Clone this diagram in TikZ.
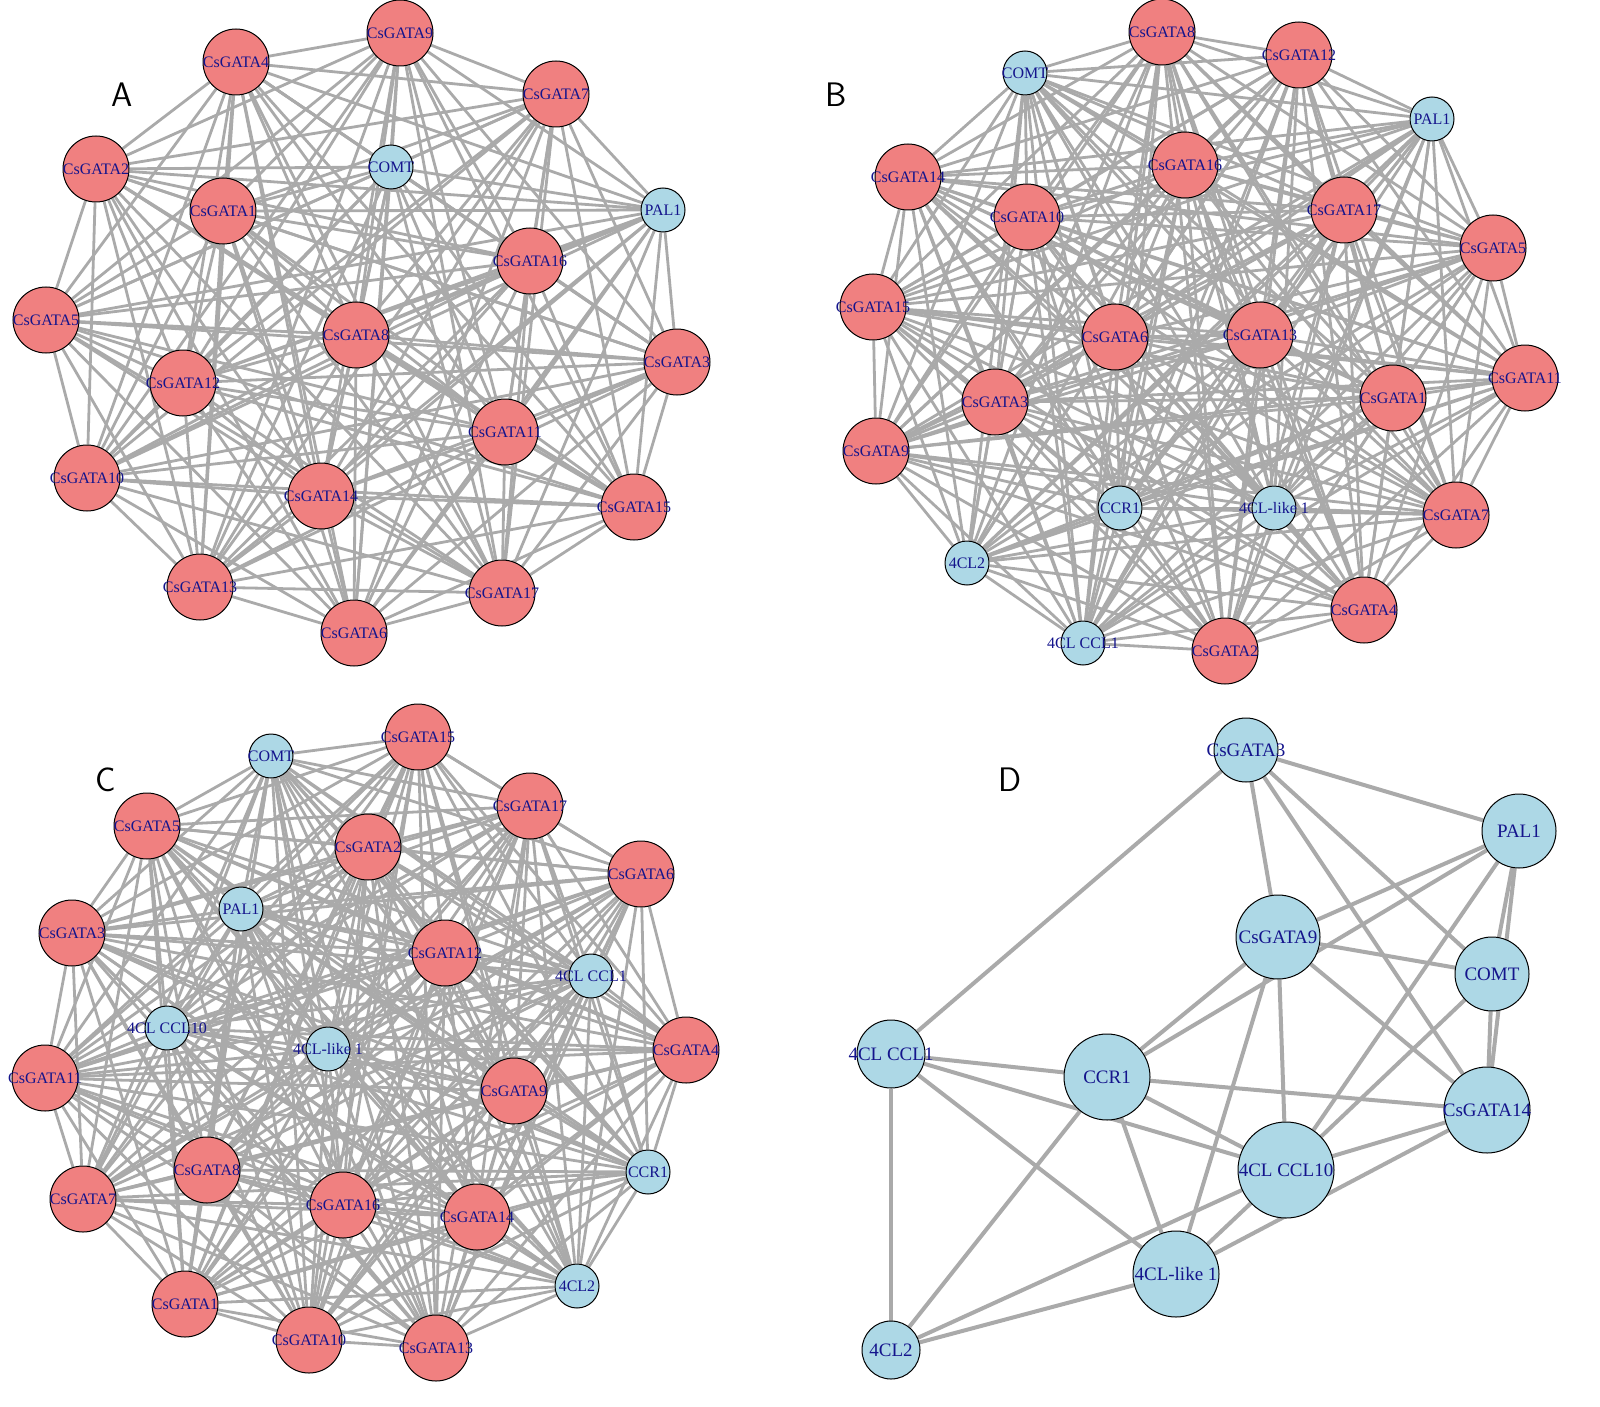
\documentclass[tikz,border=0pt]{standalone}
\usepackage{fontspec}
\setmainfont{Liberation Serif}
\usetikzlibrary{backgrounds}
\definecolor{lc}{RGB}{240,128,128}
\definecolor{lb}{RGB}{173,216,230}
\definecolor{eg}{RGB}{170,170,170}
\definecolor{tx}{RGB}{20,20,140}
\begin{document}
\begin{tikzpicture}[x=0.5pt,y=-0.5pt,
  lab/.style={text=tx,font=\fontsize{8}{8}\selectfont,inner sep=0},
  rn/.style={circle,draw=black,line width=0.5pt,fill=lc,minimum size=33pt,inner sep=0,label={[lab]center:#1}},
  bn/.style={circle,draw=black,line width=0.5pt,fill=lb,minimum size=22pt,inner sep=0,label={[lab]center:#1}},
  dn/.style 2 args={circle,draw=black,line width=0.5pt,fill=lb,minimum size=#2,inner sep=0,label={[lab,font=\fontsize{9.5}{9.5}\selectfont]center:#1}},
  ed/.style={draw=eg,line width=1.4pt},
  de/.style={draw=eg,line width=2pt},
  pl/.style={font=\sffamily\fontsize{17}{17}\selectfont}]
\useasboundingbox (0,0) rectangle (1600,1407);
% ---------- A ----------
\node[pl] (LA) at (122,95) {A};
\node[rn=CsGATA9] (a1) at (400,33) {};
\node[rn=CsGATA4] (a2) at (236,62) {};
\node[rn=CsGATA7] (a3) at (556,94) {};
\node[rn=CsGATA2] (a4) at (96,169) {};
\node[bn=COMT] (a5) at (391,167) {};
\node[rn=CsGATA1] (a6) at (223,211) {};
\node[bn=PAL1] (a7) at (663,210) {};
\node[rn=CsGATA16] (a8) at (530,261) {};
\node[rn=CsGATA5] (a9) at (46,320) {};
\node[rn=CsGATA8] (a10) at (356,335) {};
\node[rn=CsGATA3] (a11) at (677,362) {};
\node[rn=CsGATA12] (a12) at (183,383) {};
\node[rn=CsGATA11] (a13) at (505,432) {};
\node[rn=CsGATA10] (a14) at (87,478) {};
\node[rn=CsGATA14] (a15) at (321,496) {};
\node[rn=CsGATA15] (a16) at (634,507) {};
\node[rn=CsGATA13] (a17) at (200,587) {};
\node[rn=CsGATA17] (a18) at (502,593) {};
\node[rn=CsGATA6] (a19) at (354,633) {};
% ---------- B ----------
\node[pl] (LB) at (836,95) {B};
\node[rn=CsGATA8] (b1) at (1162,32) {};
\node[rn=CsGATA12] (b2) at (1299,55) {};
\node[bn=COMT] (b3) at (1025,73) {};
\node[bn=PAL1] (b4) at (1432,119) {};
\node[rn=CsGATA14] (b5) at (908,177) {};
\node[rn=CsGATA16] (b6) at (1185,165) {};
\node[rn=CsGATA10] (b7) at (1027,217) {};
\node[rn=CsGATA17] (b8) at (1344,210) {};
\node[rn=CsGATA5] (b9) at (1493,248) {};
\node[rn=CsGATA15] (b10) at (873,307) {};
\node[rn=CsGATA6] (b11) at (1115,337) {};
\node[rn=CsGATA13] (b12) at (1260,335) {};
\node[rn=CsGATA11] (b13) at (1525,378) {};
\node[rn=CsGATA3] (b14) at (995,402) {};
\node[rn=CsGATA1] (b15) at (1393,398) {};
\node[rn=CsGATA9] (b16) at (876,451) {};
\node[bn=CCR1] (b17) at (1120,508) {};
\node[bn=4CL-like 1] (b18) at (1274,508) {};
\node[rn=CsGATA7] (b19) at (1456,515) {};
\node[bn=4CL2] (b20) at (967,563) {};
\node[rn=CsGATA4] (b21) at (1364,610) {};
\node[bn=4CL CCL1] (b22) at (1083,643) {};
\node[rn=CsGATA2] (b23) at (1225,651) {};
% ---------- C ----------
\node[pl] (LC) at (106,780) {C};
\node[rn=CsGATA15] (c1) at (418,737) {};
\node[bn=COMT] (c2) at (271,756) {};
\node[rn=CsGATA17] (c3) at (530,806) {};
\node[rn=CsGATA5] (c4) at (147,826) {};
\node[rn=CsGATA2] (c5) at (368,847) {};
\node[rn=CsGATA6] (c6) at (641,874) {};
\node[bn=PAL1] (c7) at (241,909) {};
\node[rn=CsGATA3] (c8) at (72,933) {};
\node[rn=CsGATA12] (c9) at (445,953) {};
\node[bn=4CL CCL1] (c10) at (591,976) {};
\node[bn=4CL CCL10] (c11) at (167,1028) {};
\node[bn=4CL-like 1] (c12) at (328,1049) {};
\node[rn=CsGATA4] (c13) at (686,1050) {};
\node[rn=CsGATA11] (c14) at (45,1078) {};
\node[rn=CsGATA9] (c15) at (514,1091) {};
\node[bn=CCR1] (c16) at (648,1172) {};
\node[rn=CsGATA8] (c17) at (207,1170) {};
\node[rn=CsGATA7] (c18) at (83,1199) {};
\node[rn=CsGATA16] (c19) at (343,1205) {};
\node[rn=CsGATA14] (c20) at (477,1217) {};
\node[bn=4CL2] (c21) at (577,1286) {};
\node[rn=CsGATA1] (c22) at (185,1304) {};
\node[rn=CsGATA10] (c23) at (309,1340) {};
\node[rn=CsGATA13] (c24) at (436,1348) {};
% ---------- D ----------
\node[pl] (LD) at (1010,780) {D};
\node[dn={CsGATA3}{32pt}] (g3) at (1246,750) {};
\node[dn={PAL1}{37pt}] (pal) at (1519,831) {};
\node[dn={CsGATA9}{42pt}] (g9) at (1278,937) {};
\node[dn={COMT}{37pt}] (comt) at (1492,974) {};
\node[dn={4CL CCL1}{34pt}] (ccl1) at (891,1054) {};
\node[dn={CCR1}{43pt}] (ccr) at (1107,1077) {};
\node[dn={CsGATA14}{43pt}] (g14) at (1487,1110) {};
\node[dn={4CL CCL10}{48pt}] (ccl10) at (1286,1170) {};
\node[dn={4CL-like 1}{43pt}] (like) at (1176,1274) {};
\node[dn={4CL2}{29pt}] (cl2) at (891,1350) {};
\begin{scope}[on background layer]
\foreach \p/\n in {a/19,b/23,c/24}{
  \pgfmathtruncatemacro\m{\n-1}
  \foreach \i in {1,...,\m}{
    \pgfmathtruncatemacro\k{\i+1}
    \foreach \j in {\k,...,\n}{\draw[ed] (\p\i) -- (\p\j);}
  }
}
\foreach \u/\v in {g3/ccl1,g3/pal,g3/g9,g3/comt,g3/g14,pal/g9,pal/ccr,pal/comt,pal/g14,pal/ccl10,
  g9/comt,g9/g14,g9/ccl10,g9/like,g9/ccr,comt/g14,comt/ccl10,ccl1/ccr,ccl1/ccl10,ccl1/like,ccl1/cl2,
  ccr/g14,ccr/ccl10,ccr/like,ccr/cl2,g14/ccl10,g14/like,ccl10/like,ccl10/cl2,like/cl2}
  {\draw[de] (\u) -- (\v);}
\end{scope}
\end{tikzpicture}
\end{document}
